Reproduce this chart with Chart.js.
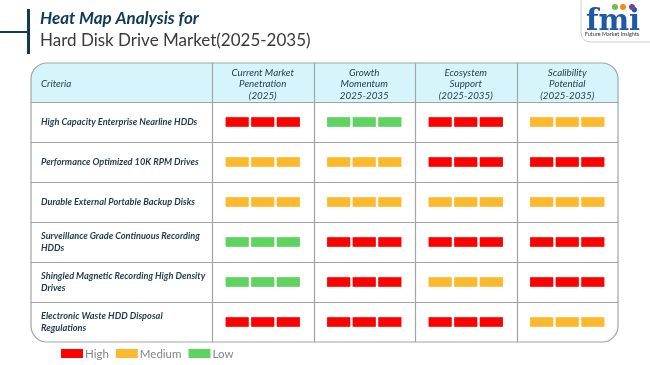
<!DOCTYPE html>
<html>
<head>
<meta charset="utf-8">
<script src="https://cdn.jsdelivr.net/npm/chart.js@4.4.1/dist/chart.umd.min.js"></script>
<style>
  body { margin: 0; background: #fff; }
  #wrap { width: 650px; height: 365px; position: relative; }
</style>
</head>
<body>
<div id="wrap"><canvas id="myChart"></canvas></div>
<script>
const criteria = [
  'High Capacity Enterprise Nearline HDDs',
  'Performance Optimized 10K RPM Drives',
  'Durable External Portable Backup Disks',
  ['Surveillance Grade Continuous Recording', 'HDDs'],
  ['Shingled Magnetic Recording High Density', 'Drives'],
  ['Electronic Waste HDD Disposal', 'Regulations']
]

const columnHeaders = [
  ['Current Market', 'Penetration', '(2025)'],
  ['Growth', 'Momentum', '2025-2035'],
  ['Ecosystem', 'Support', '(2025-2035)'],
  ['Scalibility', 'Potential', '(2025-2035)']
]

const marketPenetration = ['High', 'Medium', 'Medium', 'Low', 'Low', 'High']
const growthMomentum = ['Low', 'Medium', 'Medium', 'High', 'High', 'High']
const ecosystemSupport = ['High', 'High', 'Medium', 'High', 'Medium', 'High']
const scalabilityPotential = ['Medium', 'High', 'Medium', 'High', 'High', 'Medium']

const levels = ['High', 'Medium', 'Low']
const levelColors = { High: '#ff0000', Medium: '#fdb92e', Low: '#5fd35f' }

const columns = [marketPenetration, growthMomentum, ecosystemSupport, scalabilityPotential]

// three blocks per cell, in x-scale units (one unit = one column)
const blockW = 0.222
const blockGap = 0.03
const blockStart = (1 - 3 * blockW - 2 * blockGap) / 2

const datasets = columns.flatMap((col, c) => [0, 1, 2].map(k => {
  const from = c + blockStart + k * (blockW + blockGap)
  return {
    data: col.map(() => [from, from + blockW]),
    backgroundColor: col.map(l => levelColors[l]),
    borderWidth: 0,
    barThickness: 9,
    grouped: false
  }
}))

const roundRect = (ctx, x, y, w, h, r) => {
  ctx.beginPath()
  ctx.moveTo(x + r, y)
  ctx.lineTo(x + w - r, y)
  ctx.arcTo(x + w, y, x + w, y + r, r)
  ctx.lineTo(x + w, y + h - r)
  ctx.arcTo(x + w, y + h, x + w - r, y + h, r)
  ctx.lineTo(x + r, y + h)
  ctx.arcTo(x, y + h, x, y + h - r, r)
  ctx.lineTo(x, y + r)
  ctx.arcTo(x, y, x + r, y, r)
  ctx.closePath()
}

const tablePlugin = {
  id: 'table',
  beforeDatasetsDraw(chart) {
    const { ctx, chartArea, scales } = chart
    const xs = scales.x, ys = scales.y
    const left = 31, top = 63
    const right = chartArea.right, bottom = chartArea.bottom
    ctx.save()

    // title
    ctx.fillStyle = '#163a4d'
    ctx.fillRect(27, 9, 3, 45)
    ctx.fillRect(0, 31, 28, 2)
    ctx.textBaseline = 'alphabetic'
    ctx.textAlign = 'left'
    ctx.fillStyle = '#0d3b57'
    ctx.font = 'italic bold 17px Lato'
    ctx.fillText('Heat Map Analysis for', 40, 24)
    ctx.fillStyle = '#3a3a3a'
    ctx.font = '17px Lato'
    ctx.fillText('Hard Disk Drive Market(2025-2035)', 40, 46)

    // logo
    ctx.strokeStyle = '#cfcfcf'
    ctx.lineWidth = 1
    roundRect(ctx, 581, -12, 90, 54, 9)
    ctx.stroke()
    ctx.fillStyle = '#1f58a6'
    ctx.font = 'bold 29px "DejaVu Serif"'
    ctx.textAlign = 'center'
    ctx.fillText('fmi', 613, 30)
    const dots = [[615, '#6cc04a'], [623, '#f28b1e'], [632, '#7b3f98']]
    dots.forEach(([dx, col]) => {
      ctx.fillStyle = col
      ctx.beginPath()
      ctx.arc(dx, 7, 3, 0, Math.PI * 2)
      ctx.fill()
    })
    ctx.fillStyle = '#333'
    ctx.font = '5.5px Lato'
    ctx.fillText('Future Market Insights', 612, 36)

    // table frame
    roundRect(ctx, left, top, right - left, bottom - top, 16)
    ctx.save()
    ctx.clip()
    ctx.fillStyle = '#d6f4fb'
    ctx.fillRect(left, top, right - left, chartArea.top - top)
    ctx.restore()

    ctx.strokeStyle = '#a3a3a3'
    ctx.lineWidth = 1.2
    ctx.beginPath()
    for (let c = 0; c < columns.length; c++) {
      const px = Math.round(xs.getPixelForValue(c)) + 0.5
      ctx.moveTo(px, top)
      ctx.lineTo(px, bottom)
    }
    const bounds = [chartArea.top]
    for (let i = 1; i < criteria.length; i++) {
      bounds.push((ys.getPixelForValue(i - 1) + ys.getPixelForValue(i)) / 2)
    }
    bounds.forEach(b => {
      const py = Math.round(b) + 0.5
      ctx.moveTo(left, py)
      ctx.lineTo(right, py)
    })
    ctx.stroke()
    roundRect(ctx, left, top, right - left, bottom - top, 16)
    ctx.stroke()

    // header texts
    const headMid = (top + chartArea.top) / 2 + 1.5
    ctx.fillStyle = '#1f3a4a'
    ctx.textBaseline = 'middle'
    ctx.font = 'italic 9.8px Lato'
    ctx.textAlign = 'left'
    ctx.fillText('Criteria', left + 10, headMid)
    ctx.textAlign = 'center'
    columnHeaders.forEach((lines, c) => {
      const cx = xs.getPixelForValue(c + 0.5)
      lines.forEach((t, j) => {
        ctx.fillText(t, cx, headMid + (j - (lines.length - 1) / 2) * 11.5)
      })
    })

    // row labels
    ctx.fillStyle = '#1e3b4c'
    ctx.font = 'italic bold 9.2px Lato'
    ctx.textAlign = 'left'
    criteria.forEach((label, i) => {
      const lines = Array.isArray(label) ? label : [label]
      const cy = ys.getPixelForValue(i)
      lines.forEach((t, j) => {
        ctx.fillText(t, left + 10, cy + (j - (lines.length - 1) / 2) * 12)
      })
    })

    // legend
    let lx = 61
    ctx.font = '11.5px Lato'
    ctx.textBaseline = 'middle'
    levels.forEach(l => {
      ctx.fillStyle = levelColors[l]
      ctx.fillRect(lx, 349, 22, 9)
      ctx.fillStyle = '#858585'
      ctx.fillText(l, lx + 24, 354)
      lx += 24 + ctx.measureText(l).width + 7
    })

    ctx.restore()
  }
}

const ctx = document.getElementById('myChart')
const chart = new Chart(ctx, {
  type: 'bar',
  data: {
    labels: criteria,
    datasets: datasets
  },
  options: {
    indexAxis: 'y',
    responsive: true,
    maintainAspectRatio: false,
    animation: false,
    layout: {
      padding: { left: 212, right: 32, top: 102, bottom: 23 }
    },
    scales: {
      x: { type: 'linear', min: 0, max: 4, display: false },
      y: { display: false, offset: true }
    },
    plugins: {
      legend: { display: false },
      tooltip: { enabled: false }
    }
  },
  plugins: [tablePlugin]
})
</script>
</body>
</html>
